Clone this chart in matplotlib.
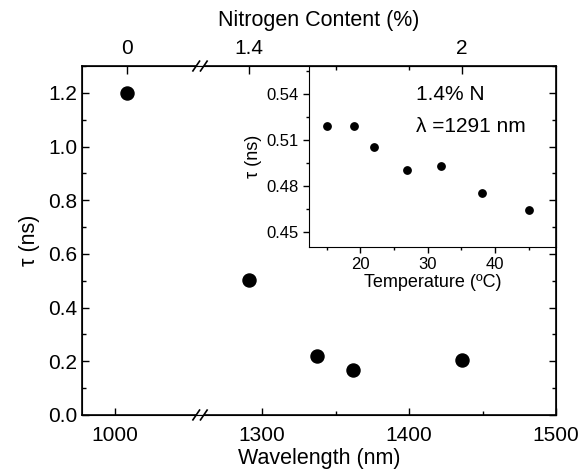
import numpy as np
import matplotlib
matplotlib.use("Agg")
import matplotlib.pyplot as plt

plt.rcParams['font.family'] = ['Liberation Sans', 'DejaVu Sans']

# main data: lifetime vs emission wavelength
wavelength = [1008, 1291, 1337, 1362, 1436]
tau = [1.20, 0.504, 0.22, 0.167, 0.205]

# top axis: nitrogen content at the sample wavelengths
nitrogen_labels = ['0', '1.4', '2']
nitrogen_wl = [1008, 1291, 1436]

# inset: lifetime vs temperature for the 1.4% N sample
temperature = [15, 19, 22, 27, 32, 38, 45]
tau_T = [0.519, 0.519, 0.505, 0.490, 0.493, 0.475, 0.464]

# broken x axis: everything above the gap is shifted left by 200 nm
SHIFT = 200.0


def fwd(x):
    x = np.asarray(x, dtype=float)
    return np.where(x < 1158, x, x - SHIFT)


def inv(y):
    y = np.asarray(y, dtype=float)
    return np.where(y < 1058, y, y + SHIFT)


fig = plt.figure(figsize=(5.81, 4.76), dpi=100)
ax = fig.add_axes([0.1411, 0.1282, 0.8159, 0.7331])
ax.set_xscale('function', functions=(fwd, inv))
ax.set_xlim(977.4, 1500)
ax.set_ylim(0, 1.3)
ax.plot(wavelength, tau, 'o', color='black', markersize=9.4, clip_on=False)

ax.set_xticks([1000, 1300, 1400, 1500])
ax.set_xticks([1350, 1450], minor=True)
ax.set_yticks(np.arange(0, 1.21, 0.2))
ax.set_yticklabels(['%.1f' % v for v in np.arange(0, 1.21, 0.2)])
ax.set_yticks(np.arange(0.1, 1.31, 0.2), minor=True)
ax.tick_params(which='both', direction='in', labelsize=15, top=False, right=True, width=1)
ax.tick_params(which='major', length=5)
ax.tick_params(which='minor', length=3)
ax.tick_params(axis='x', pad=8)
ax.set_xlabel('Wavelength (nm)', fontsize=15.5, labelpad=2)
ax.set_ylabel('τ (ns)', fontsize=15.5, labelpad=6)
for s in ax.spines.values():
    s.set_linewidth(1.2)

# top axis with nitrogen content
ax2 = ax.twiny()
ax2.set_xscale('function', functions=(fwd, inv))
ax2.set_xlim(ax.get_xlim())
ax2.set_xticks(nitrogen_wl)
ax2.set_xticklabels(nitrogen_labels)
ax2.set_xticks([1350, 1400], minor=True)
ax2.tick_params(which='both', direction='in', labelsize=15, width=1, pad=6)
ax2.tick_params(which='major', length=6)
ax2.tick_params(which='minor', length=3)
ax2.set_xlabel('Nitrogen Content (%)', fontsize=15.5, labelpad=9)

# break marks on top and bottom
bx = 0.249
for yb in (0, 1):
    for dx in (-0.008, 0.008):
        ax.plot([bx + dx - 0.007, bx + dx + 0.007], [yb - 0.014, yb + 0.014],
                transform=ax.transAxes, color='black', lw=1.2, clip_on=False, zorder=10)
    ax.plot([bx - 0.006, bx + 0.006], [yb, yb], transform=ax.transAxes,
            color='white', lw=2.0, clip_on=False, zorder=9)

# inset
axi = fig.add_axes([0.5318, 0.4811, 0.4251, 0.3803])
axi.plot(temperature, tau_T, 'o', color='black', markersize=5.3)
axi.set_xlim(12.4, 49)
axi.set_ylim(0.44, 0.558)
axi.set_xticks([20, 30, 40])
axi.set_xticks([15, 25, 35, 45], minor=True)
axi.set_yticks([0.45, 0.48, 0.51, 0.54])
axi.set_yticks([0.465, 0.495, 0.525, 0.555], minor=True)
axi.tick_params(which='both', direction='out', labelsize=12, width=1)
axi.tick_params(which='major', length=4)
axi.tick_params(which='minor', length=2.5)
axi.set_xlabel('Temperature (ºC)', fontsize=13, labelpad=1)
axi.set_ylabel('τ (ns)', fontsize=13, labelpad=3)
axi.text(0.433, 0.845, '1.4% N', transform=axi.transAxes, fontsize=15, va='center', ha='left')
axi.text(0.433, 0.668, 'λ =1291 nm', transform=axi.transAxes, fontsize=15, va='center', ha='left')

# draw order: inset under the main frame so main ticks show on the shared edges
axi.set_zorder(1)
ax.set_zorder(2)
ax.patch.set_visible(False)
ax2.set_zorder(3)
ax2.patch.set_visible(False)

fig.savefig('out.png', dpi=100)
